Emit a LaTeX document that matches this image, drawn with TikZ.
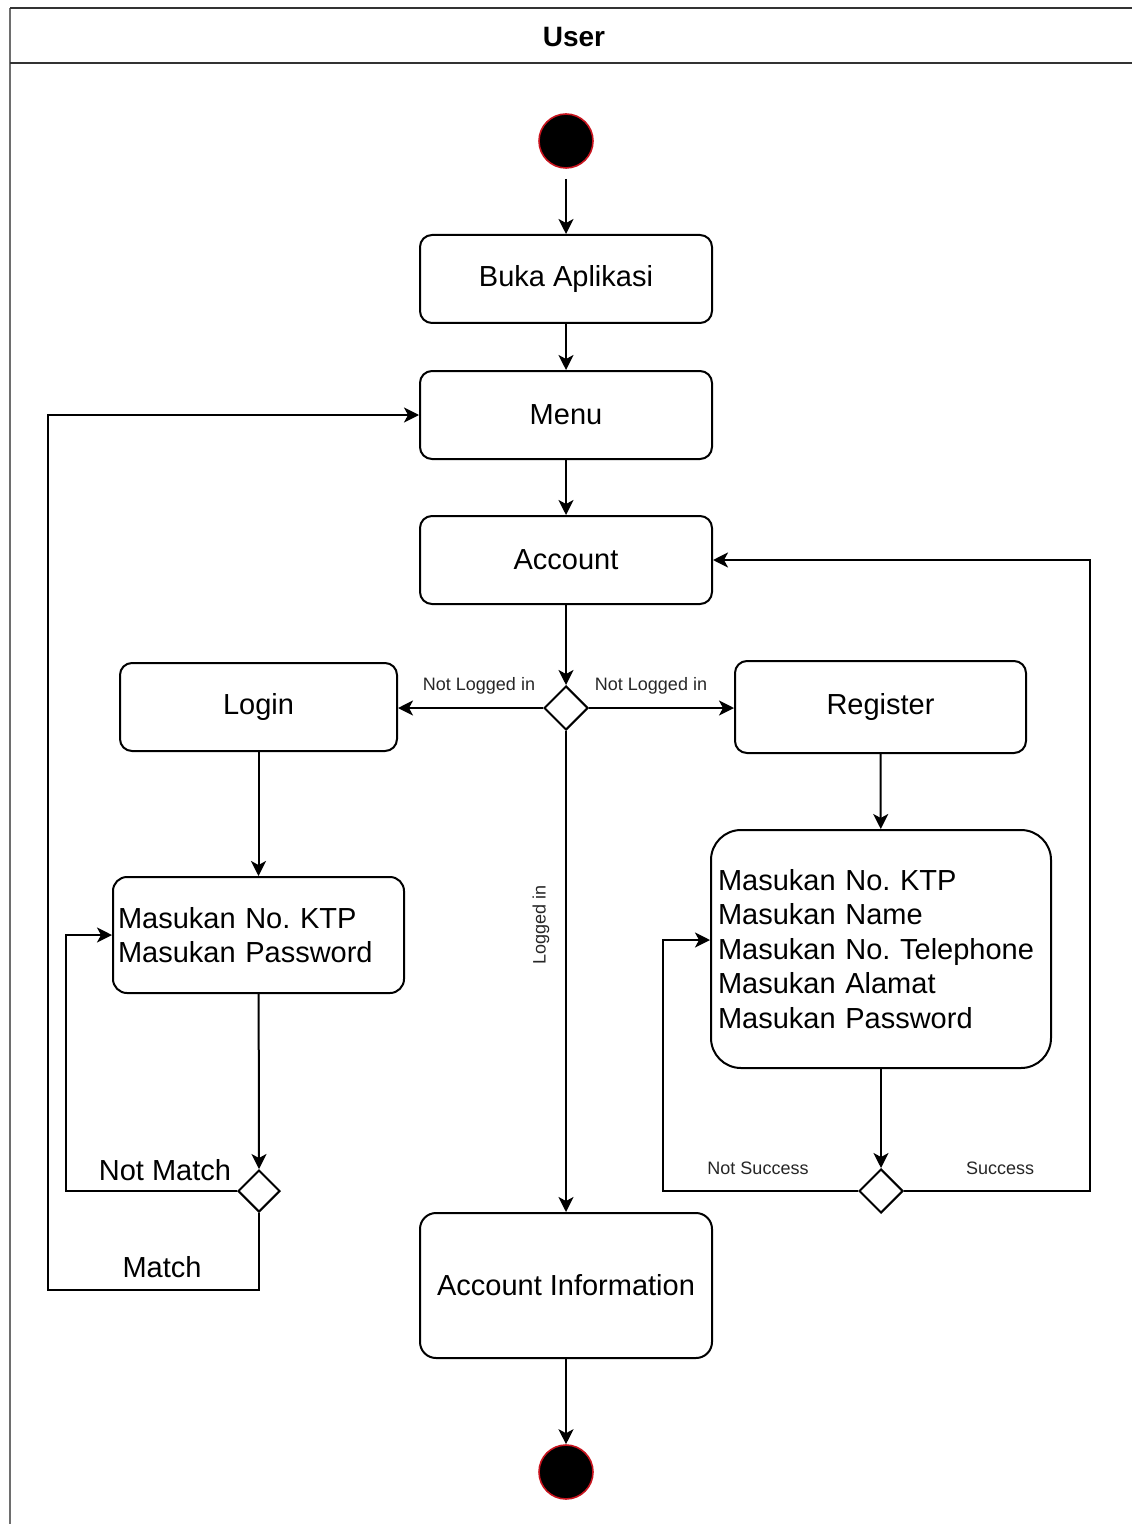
\documentclass[tikz,border=0pt]{standalone}
\usepackage{fontspec}
\setmainfont{Liberation Sans}
\usetikzlibrary{shapes.geometric,arrows.meta}
\definecolor{startred}{RGB}{200,20,30}
\definecolor{framegray}{RGB}{110,110,110}
\tikzset{
  box/.style={draw=black, line width=1pt, rounded corners=6pt, fill=white,
    minimum width=146pt, minimum height=44pt, font=\fontsize{14.5}{17.25}\selectfont, inner sep=2pt},
  textbox/.style={draw=black, line width=1pt, fill=white, align=left,
    font=\fontsize{14.5}{17.25}\selectfont},
  dec/.style={diamond, draw=black, line width=1pt, fill=white, minimum width=22pt,
    minimum height=22pt, inner sep=0pt, aspect=1},
  dot/.style={circle, fill=black, draw=startred, line width=0.8pt, minimum size=27pt, inner sep=0pt},
  arr/.style={line width=1pt, -{Stealth[length=7.5pt,width=7.5pt,inset=2pt]}},
  lbl/.style={font=\fontsize{9}{10}\selectfont, text=black!85, inner sep=0pt},
  biglbl/.style={font=\fontsize{14.5}{17.25}\selectfont, inner sep=0pt},
}
\begin{document}
\frenchspacing
\begin{tikzpicture}[x=0.5pt,y=-0.5pt]
\useasboundingbox (0,0) rectangle (1132,1524);
% frame
\draw[framegray, line width=1.4pt] (10,8) -- (10,1524);
\draw[black!80, line width=1pt] (10,8) -- (1132,8);
\draw[black!80, line width=1pt] (10,63) -- (1132,63);
\node[font=\bfseries\fontsize{14}{16}\selectfont, inner sep=0pt] (lane) at (574,37) {User};

% nodes
\node[dot] (start) at (566,141) {};
\node[box] (buka) at (566,279) {Buka Aplikasi};
\node[box] (menu) at (566,415) {Menu};
\node[box] (account) at (566,560) {Account};
\node[dec] (d1) at (566,708) {};
\node[box, minimum width=138.5pt] (login) at (258.5,707) {Login};
\node[box, minimum width=145.5pt, minimum height=46pt] (register) at (880.5,707) {Register};
\node[textbox, rounded corners=7pt, inner xsep=2.5pt, text width=140.5pt,
      minimum height=58pt] (lbox) at (258.5,935) {Masukan No. KTP\\Masukan Password};
\node[textbox, rounded corners=15pt, inner xsep=3.5pt, text width=163pt,
      minimum height=119pt] (rbox) at (881,949) {Masukan No. KTP\\Masukan Name\\Masukan No. Telephone\\Masukan Alamat\\Masukan Password};
\node[dec, minimum width=21pt, minimum height=21pt] (dl) at (259,1191) {};
\node[dec] (dr) at (881,1191) {};
\node[box, rounded corners=8pt, minimum height=72.5pt] (info) at (566,1285.5) {Account Information};
\node[dot] (end) at (566,1472) {};

% coordinates
\coordinate (nm) at (66,1191);
\coordinate (m1) at (259,1290);
\coordinate (m2) at (48,1290);
\coordinate (ns) at (663,1191);
\coordinate (s1) at (1090,1191);

% connectors
\draw[arr] ([yshift=-5pt]start.south) -- (buka.north);
\draw[arr] (buka) -- (menu);
\draw[arr] (menu) -- (account);
\draw[arr] (account) -- (d1.north);
\draw[arr] (d1.west) -- (d1.west -| login.east);
\draw[arr] (d1.east) -- (d1.east -| register.west);
\draw[arr] (d1.south) -- (info.north);
\draw[arr] (login) -- (lbox);
\draw[arr] (lbox) -- (dl.north);
\draw[arr] (dl.west) -- (nm) |- (lbox.west);
\draw[arr] (dl.south) -- (m1) -- (m2) |- (menu.west);
\draw[arr] (register) -- (rbox);
\draw[arr] (rbox) -- (dr.north);
\draw[arr] (dr.west) -- (ns) |- ([yshift=4.5pt]rbox.west);
\draw[arr] (dr.east) -- (s1) |- (account.east);
\draw[arr] (info) -- (end.north);

% labels
\node[lbl] (l1) at (479,686) {Not Logged in};
\node[lbl] (l2) at (651,686) {Not Logged in};
\node[lbl, rotate=90] (l3) at (541,925) {Logged in};
\node[biglbl] (l4) at (165,1170) {Not Match};
\node[biglbl] (l5) at (162,1267) {Match};
\node[lbl] (l6) at (758,1168) {Not Success};
\node[lbl] (l7) at (1000,1168) {Success};
\end{tikzpicture}
\end{document}
